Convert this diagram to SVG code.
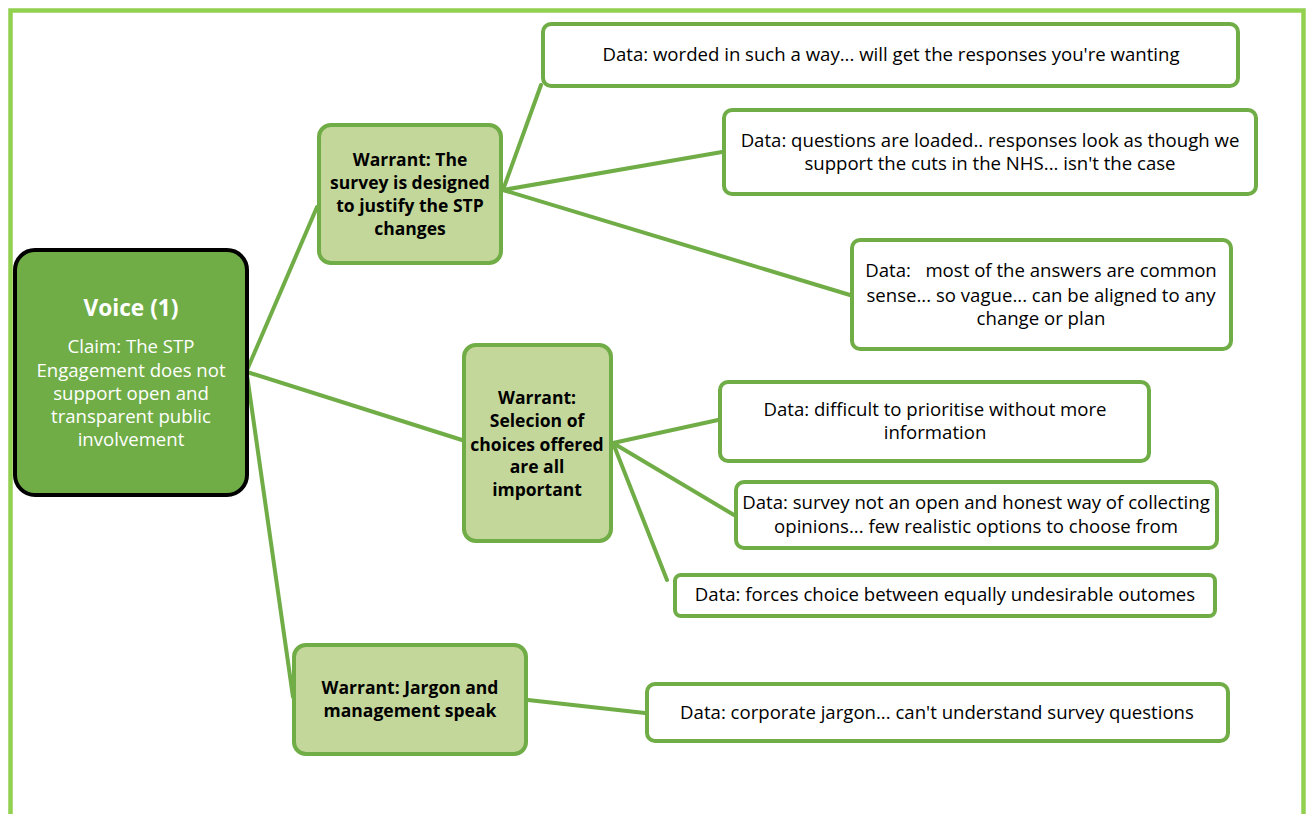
<svg xmlns="http://www.w3.org/2000/svg" width="1309" height="814" viewBox="0 0 1309 814">
  <style>
    .frame { fill: none; stroke: #92d050; stroke-width: 4.5; }
    .root { fill: #70ad47; stroke: #000000; stroke-width: 4; }
    .warrant { fill: #c4d79b; stroke: #70ad47; stroke-width: 4; }
    .data { fill: #ffffff; stroke: #70ad47; stroke-width: 4; }
    .link { stroke: #70ad47; stroke-width: 4; fill: none; stroke-linecap: round; }
    text { font-family: "Open Sans", "Liberation Sans", sans-serif; text-anchor: middle; }
    .title { fill: #ffffff; font-weight: bold; font-size: 22.7px; }
    .claim { fill: #ffffff; font-size: 18.6px; }
    .wt { fill: #000000; font-weight: bold; font-size: 17.5px; }
    .dt { fill: #000000; font-size: 18.6px; }
  </style>

  <rect class="frame" x="10.5" y="10.5" width="1293" height="820"/>

  <g id="connectors">
    <line class="link" x1="247" y1="370" x2="317" y2="207"/>
    <line class="link" x1="247" y1="372" x2="462" y2="440"/>
    <line class="link" x1="247" y1="375" x2="293" y2="697"/>
    <line class="link" x1="503" y1="190" x2="541" y2="85"/>
    <line class="link" x1="503" y1="190" x2="722" y2="152"/>
    <line class="link" x1="503" y1="190" x2="850" y2="295"/>
    <line class="link" x1="613" y1="443" x2="718" y2="420"/>
    <line class="link" x1="613" y1="443" x2="734" y2="515"/>
    <line class="link" x1="613" y1="443" x2="667" y2="580"/>
    <line class="link" x1="528" y1="700" x2="645" y2="713"/>
  </g>

  <g id="root">
    <rect class="root" x="15" y="250" width="232" height="245" rx="20"/>
    <text class="title" x="131" y="316">Voice (1)</text>
    <text class="claim" x="131" y="353">Claim: The STP</text>
    <text class="claim" x="131" y="377">Engagement does not</text>
    <text class="claim" x="131" y="400">support open and</text>
    <text class="claim" x="131" y="423">transparent public</text>
    <text class="claim" x="131" y="446">involvement</text>
  </g>

  <g id="warrant-survey">
    <rect class="warrant" x="319" y="125" width="182" height="138" rx="12"/>
    <text class="wt" x="410" y="166">Warrant: The</text>
    <text class="wt" x="410" y="189">survey is designed</text>
    <text class="wt" x="410" y="212">to justify the STP</text>
    <text class="wt" x="410" y="235">changes</text>
  </g>

  <g id="warrant-choices">
    <rect class="warrant" x="464" y="345" width="147" height="196" rx="12"/>
    <text class="wt" x="537" y="404">Warrant:</text>
    <text class="wt" x="537" y="427">Selecion of</text>
    <text class="wt" x="537" y="451">choices offered</text>
    <text class="wt" x="537" y="473">are all</text>
    <text class="wt" x="537" y="496">important</text>
  </g>

  <g id="warrant-jargon">
    <rect class="warrant" x="294" y="645" width="232" height="109" rx="12"/>
    <text class="wt" x="410" y="694">Warrant: Jargon and</text>
    <text class="wt" x="410" y="717">management speak</text>
  </g>

  <g id="data-worded">
    <rect class="data" x="543" y="24" width="695" height="62" rx="8"/>
    <text class="dt" x="891" y="61">Data: worded in such a way... will get the responses you're wanting</text>
  </g>

  <g id="data-loaded">
    <rect class="data" x="724" y="110" width="532" height="84" rx="8"/>
    <text class="dt" x="990" y="147">Data: questions are loaded.. responses look as though we</text>
    <text class="dt" x="990" y="170">support the cuts in the NHS... isn't the case</text>
  </g>

  <g id="data-vague">
    <rect class="data" x="852" y="240" width="379" height="109" rx="8"/>
    <text class="dt" x="1041" y="277" xml:space="preserve">Data:   most of the answers are common</text>
    <text class="dt" x="1041" y="302">sense... so vague... can be aligned to any</text>
    <text class="dt" x="1041" y="325">change or plan</text>
  </g>

  <g id="data-prioritise">
    <rect class="data" x="720" y="382" width="429" height="79" rx="8"/>
    <text class="dt" x="935" y="416">Data: difficult to prioritise without more</text>
    <text class="dt" x="935" y="439">information</text>
  </g>

  <g id="data-honest">
    <rect class="data" x="736" y="482" width="481" height="66" rx="8"/>
    <text class="dt" x="976" y="509">Data: survey not an open and honest way of collecting</text>
    <text class="dt" x="976" y="533">opinions... few realistic options to choose from</text>
  </g>

  <g id="data-undesirable">
    <rect class="data" x="675" y="575" width="540" height="41" rx="6"/>
    <text class="dt" x="945" y="601">Data: forces choice between equally undesirable outomes</text>
  </g>

  <g id="data-jargon">
    <rect class="data" x="647" y="684" width="581" height="57" rx="8"/>
    <text class="dt" x="937" y="719">Data: corporate jargon... can't understand survey questions</text>
  </g>
</svg>
